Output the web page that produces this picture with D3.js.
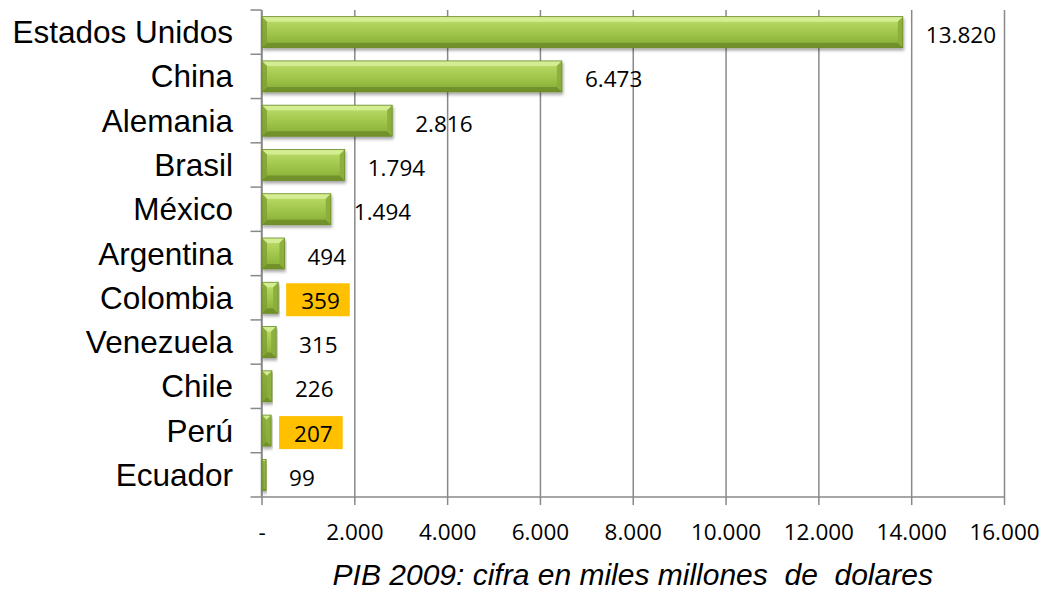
<!DOCTYPE html>
<html>
<head>
<meta charset="utf-8">
<script src="https://cdn.jsdelivr.net/npm/d3@7"></script>
<style>
  html, body { margin: 0; padding: 0; background: #fff; }
  svg { display: block; }
</style>
</head>
<body>
<svg id="chart" width="1040" height="594"></svg>
<script>
// data: PIB 2009 (miles de millones de dolares)
const countries = ["Estados Unidos", "China", "Alemania", "Brasil", "México", "Argentina",
  "Colombia", "Venezuela", "Chile", "Perú", "Ecuador"];
const values = [13820, 6473, 2816, 1794, 1494, 494, 359, 315, 226, 207, 99];
const highlighted = ["Colombia", "Perú"];
const xTicks = [0, 2000, 4000, 6000, 8000, 10000, 12000, 14000, 16000];
const axisTitle = "PIB 2009: cifra en miles millones  de  dolares";

const svg = d3.select("#chart");
const plotLeft = 261.5, plotRight = 1004, plotTop = 10, plotBottom = 497;
const gridColor = "#898989";

const loc = d3.formatLocale({ decimal: ",", thousands: ".", grouping: [3], currency: ["$", ""] });
const fmt = v => v === 0 ? "-" : loc.format(",d")(v);

const x = d3.scaleLinear().domain([0, 16000]).range([plotLeft, plotRight]);
const y = d3.scaleBand().domain(countries).range([plotTop, plotBottom]).paddingInner(0.3).paddingOuter(0.15);

const rows = countries.map((c, i) => ({ name: c, value: values[i] }));

// defs: gradient + shadow
const defs = svg.append("defs");
const grad = defs.append("linearGradient").attr("id", "barFace")
  .attr("x1", 0).attr("y1", 0).attr("x2", 0).attr("y2", 1);
[[0, "#c6e27c"], [0.25, "#b0d35c"], [0.6, "#9cc246"], [1, "#86aa36"]]
  .forEach(([o, c]) => grad.append("stop").attr("offset", o).attr("stop-color", c));
const shadow = defs.append("filter").attr("id", "shadow")
  .attr("x", "-5%").attr("y", "-20%").attr("width", "115%").attr("height", "160%");
shadow.append("feDropShadow").attr("dx", 1).attr("dy", 2.5).attr("stdDeviation", 1.6)
  .attr("flood-color", "#000").attr("flood-opacity", 0.35);

// gridlines + bottom axis
const gAxis = svg.append("g").attr("transform", `translate(0,${plotBottom})`);
gAxis.call(d3.axisBottom(x).tickValues(xTicks).tickSize(8).tickFormat(fmt));
gAxis.select(".domain").remove();
gAxis.selectAll(".tick line").attr("stroke", gridColor).attr("stroke-width", 1.5);
gAxis.selectAll(".tick").append("line")
  .attr("y1", 0).attr("y2", plotTop - plotBottom)
  .attr("stroke", gridColor).attr("stroke-width", 1.5);
gAxis.selectAll(".tick text")
  .attr("y", 43).attr("dy", 0)
  .attr("font-family", "'Open Sans', sans-serif").attr("font-size", 22.5).attr("fill", "#000");

svg.append("line").attr("x1", plotLeft).attr("x2", plotRight).attr("y1", plotBottom).attr("y2", plotBottom)
  .attr("stroke", gridColor).attr("stroke-width", 1.5);

// left axis: line + ticks at category boundaries
svg.append("line").attr("x1", plotLeft).attr("x2", plotLeft).attr("y1", plotTop).attr("y2", plotBottom)
  .attr("stroke", gridColor).attr("stroke-width", 1.5);
const step = (plotBottom - plotTop) / countries.length;
svg.append("g").selectAll("line")
  .data(d3.range(countries.length + 1))
  .join("line")
  .attr("x1", plotLeft - 11).attr("x2", plotLeft)
  .attr("y1", i => plotTop + i * step).attr("y2", i => plotTop + i * step)
  .attr("stroke", gridColor).attr("stroke-width", 1.5);

// category labels
svg.append("g").selectAll("text")
  .data(rows)
  .join("text")
  .attr("x", 233)
  .attr("y", d => y(d.name) + y.bandwidth() / 2 + 11)
  .attr("text-anchor", "end")
  .attr("font-family", "'Liberation Sans', Arial, sans-serif")
  .attr("font-size", 31.5)
  .attr("fill", "#000")
  .text(d => d.name);

// bars with bevel
const bev = 5;
svg.append("g").selectAll("g")
  .data(rows)
  .join("g")
  .attr("filter", "url(#shadow)")
  .each(function (d) {
    const g = d3.select(this);
    const x0 = x(0) + 0.5, x1 = x(d.value), y0 = y(d.name), y1 = y0 + y.bandwidth();
    const b = Math.min(bev, (x1 - x0) / 2);
    g.append("rect")
      .attr("x", x0).attr("y", y0).attr("width", x1 - x0).attr("height", y1 - y0)
      .attr("fill", "url(#barFace)");
    // top bevel (light)
    g.append("polygon")
      .attr("points", [[x0, y0], [x1, y0], [x1 - b, y0 + b], [x0 + b, y0 + b]].join(" "))
      .attr("fill", "#d6ee96").attr("opacity", 0.9);
    // bottom bevel (dark)
    g.append("polygon")
      .attr("points", [[x0, y1], [x1, y1], [x1 - b, y1 - b], [x0 + b, y1 - b]].join(" "))
      .attr("fill", "#6e8c2a").attr("opacity", 0.85);
    // left bevel
    g.append("polygon")
      .attr("points", [[x0, y0], [x0 + b, y0 + b], [x0 + b, y1 - b], [x0, y1]].join(" "))
      .attr("fill", "#7f9f33").attr("opacity", 0.8);
    // right bevel
    g.append("polygon")
      .attr("points", [[x1, y0], [x1, y1], [x1 - b, y1 - b], [x1 - b, y0 + b]].join(" "))
      .attr("fill", "#8aad3a").attr("opacity", 0.9);
    g.append("rect")
      .attr("x", x0).attr("y", y0).attr("width", x1 - x0).attr("height", y1 - y0)
      .attr("fill", "none").attr("stroke", "#6a8a28").attr("stroke-width", 0.8);
  });

// value labels
const labels = svg.append("g").selectAll("g")
  .data(rows)
  .join("g");
labels.each(function (d) {
  const g = d3.select(this);
  const cy = y(d.name) + y.bandwidth() / 2;
  const t = g.append("text")
    .attr("x", x(d.value) + 23)
    .attr("y", cy + 11)
    .attr("font-family", "'Open Sans', sans-serif")
    .attr("font-size", 22.5)
    .attr("fill", "#000")
    .text(fmt(d.value));
  if (highlighted.includes(d.name)) {
    const bb = t.node().getBBox();
    g.insert("rect", "text")
      .attr("x", bb.x - 15).attr("y", cy - 14.5)
      .attr("width", bb.width + 25).attr("height", 33)
      .attr("fill", "#ffc000");
  }
});

// axis title
svg.append("text")
  .attr("x", (plotLeft + plotRight) / 2)
  .attr("y", 585)
  .attr("text-anchor", "middle")
  .attr("font-family", "'Liberation Sans', Arial, sans-serif")
  .attr("font-style", "italic")
  .attr("font-size", 30)
  .attr("fill", "#000")
  .style("white-space", "pre")
  .text(axisTitle);
</script>
</body>
</html>
